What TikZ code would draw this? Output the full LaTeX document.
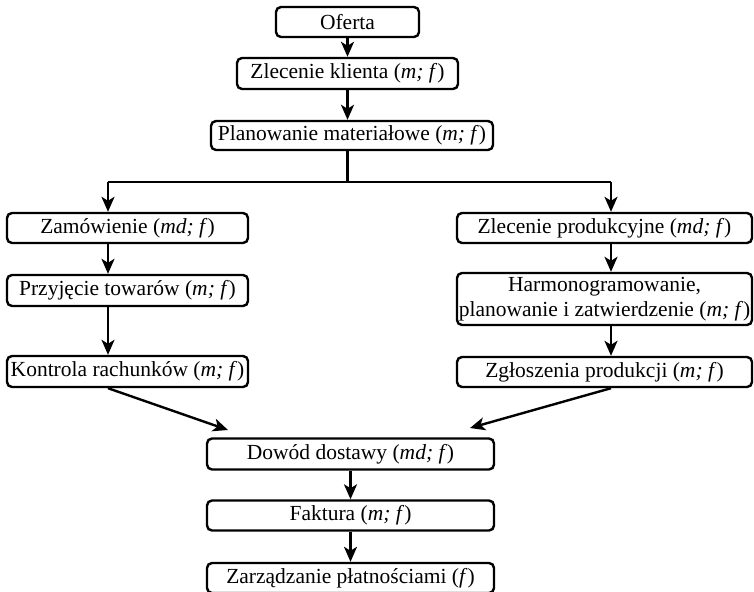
\documentclass[tikz,border=0pt]{standalone}
\usepackage{fontspec}
\setmainfont{Liberation Serif}
\usetikzlibrary{arrows.meta,positioning}
\tikzset{every picture/.style={line width=2.4pt}}
\tikzstyle{blok}=[draw,rounded corners=5pt,inner sep=0pt,align=center,minimum height=30pt]

\begin{document}
\begin{tikzpicture}[x=1pt,y=-1pt,font=\fontsize{21.5}{25}\selectfont]
\useasboundingbox (0,0) rectangle (754,591);
\node[blok,minimum width=143pt] (oferta) at (347.5,22) {Oferta};
\node[blok,minimum width=221pt,minimum height=31pt] (klient) at (347.5,73.5) {Zlecenie klienta (\emph{m; f})};
\node[blok,minimum width=282pt,minimum height=29pt] (plan) at (352,135.5) {Planowanie materiałowe (\emph{m; f})};
\node[blok,minimum width=241pt] (zam) at (127.5,228) {Zamówienie (\emph{md; f})};
\node[blok,minimum width=241pt,minimum height=31pt] (przyj) at (127.5,290.5) {Przyjęcie towarów (\emph{m; f})};
\node[blok,minimum width=241pt,minimum height=31pt] (kontr) at (127.5,371.5) {Kontrola rachunków (\emph{m; f})};
\node[blok,minimum width=295pt] (zprod) at (604.5,228) {Zlecenie produkcyjne (\emph{md; f})};
\node[blok,minimum width=295pt,minimum height=52pt] (harm) at (604.5,299) {Harmonogramowanie,\\planowanie i zatwierdzenie (\emph{m; f})};
\node[blok,minimum width=295pt] (zgl) at (604.5,372) {Zgłoszenia produkcji (\emph{m; f})};
\node[blok,minimum width=287pt,minimum height=31pt] (dowod) at (350.5,454) {Dowód dostawy (\emph{md; f})};
\node[blok,minimum width=287pt] (faktura) at (350.5,515.5) {Faktura (\emph{m; f})};
\node[blok,minimum width=287pt] (platn) at (350.5,578) {Zarządzanie płatnościami (\emph{f})};
\coordinate (lcol) at (108,182);
\coordinate (rcol) at (611,182);
\coordinate (wejL) at (228,430);
\coordinate (wejR) at (470,428);
% rozgalezienie
\draw (plan.south -| oferta) -- (oferta |- lcol);
\draw (lcol) -- (rcol);
\path[->,>={Stealth[length=15pt,width=13pt,inset=4pt]}]
(oferta) edge (klient)
(klient) edge (klient |- plan.north)
(lcol) edge (zam.north -| lcol)
(zam.south -| lcol) edge (przyj.north -| lcol)
(przyj.south -| lcol) edge (kontr.north -| lcol)
(rcol) edge (zprod.north -| rcol)
(zprod.south -| rcol) edge (harm.north -| rcol)
(harm.south -| rcol) edge (zgl.north -| rcol)
(kontr.south -| lcol) edge (wejL)
(zgl.south -| rcol) edge (wejR)
(dowod) edge (faktura)
(faktura) edge (platn);
\end{tikzpicture}
\end{document}
